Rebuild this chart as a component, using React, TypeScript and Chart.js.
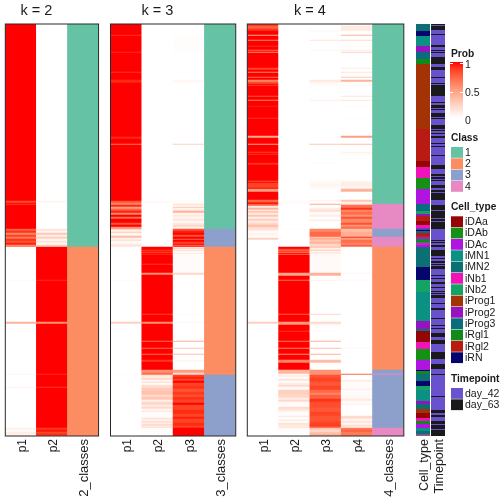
import React, { useEffect, useRef } from "react";
import { Chart, registerables } from "chart.js";

Chart.register(...registerables);

type Run = [number, number];
type CatRun = [number, string];

const ROWS = 412;
const FONT = "'Liberation Sans', Arial, sans-serif";

// ---- probability columns: [first row, probability] runs ----
const k2P1: Run[] = [[0,1],[177,.82],[179,1],[180,.85],[181,1],[205,.75],[207,.9],[209,.6],[211,.85],[213,.65],[215,.9],[217,.8],[219,.95],[221,.55],[222,.75],[223,0],[256,.04],[257,0],[298,.4],[300,0],[350,.06],[351,0],[363,.08],[364,0],[404,.08],[406,.02],[408,.1],[410,.04],[411,.12]];
const k2P2: Run[] = [[0,0],[177,.05],[179,0],[205,.15],[207,.05],[209,.3],[211,.1],[213,.25],[215,.05],[217,.15],[219,.03],[221,.3],[222,.15],[223,1],[256,.92],[257,1],[298,.55],[300,1],[350,.92],[351,1],[363,.88],[364,1],[404,.88],[406,.97],[408,.85],[410,.95],[411,.82]];
const k3P1: Run[] = [[0,1],[11,.9],[12,1],[28,.92],[29,1],[48,.9],[49,1],[56,.93],[59,1],[113,.93],[115,1],[120,.65],[121,1],[177,.8],[179,.6],[181,.92],[183,.5],[185,.75],[187,.95],[189,.6],[191,1],[193,.7],[195,1],[199,.8],[201,1],[203,.55],[205,.3],[206,.08],[208,.3],[209,.05],[212,.35],[214,.08],[216,.2],[217,.03],[220,.1],[221,.15],[223,0],[256,.03],[257,0],[298,.25],[300,0],[350,.02],[351,0]];
const k3P2: Run[] = [[0,0],[177,.04],[179,0],[223,1],[226,.85],[227,1],[228,.8],[229,1],[230,.9],[231,1],[240,.88],[241,1],[249,.55],[251,1],[290,.85],[291,1],[298,.55],[300,1],[317,.7],[318,1],[324,.7],[325,1],[330,.7],[331,1],[336,.88],[338,1],[346,.55],[349,.7],[351,.15],[353,.05],[354,.22],[356,.05],[358,.2],[359,.02],[361,.18],[364,.28],[367,.32],[371,.2],[373,.3],[376,.08],[378,.22],[381,.12],[383,.2],[385,.05],[387,.15],[388,.02],[394,.15],[396,.03],[397,.18],[399,.05],[400,.2],[402,.1],[403,.2],[404,.01]];
const k3P3: Run[] = [[0,0],[11,.01],[28,.02],[29,0],[48,.03],[49,0],[56,.04],[59,0],[113,.02],[114,0],[120,.25],[121,0],[177,.03],[179,0],[180,.2],[181,.05],[183,.3],[184,.08],[186,.12],[187,.4],[189,.05],[191,.12],[193,.05],[195,.15],[197,.04],[199,.12],[201,.22],[203,.05],[205,.8],[207,.95],[209,1],[211,.8],[213,1],[215,.7],[216,1],[218,.85],[220,1],[221,.7],[222,1],[223,.1],[224,.25],[225,.05],[226,.2],[227,.03],[229,.12],[230,.02],[249,.22],[251,0],[290,.03],[291,0],[298,.05],[299,0],[317,.42],[318,0],[324,.3],[325,0],[330,.35],[331,0],[336,.05],[338,0],[346,.5],[349,.2],[351,.85],[353,.95],[355,.85],[357,1],[359,.85],[362,.9],[365,.8],[368,.88],[371,.8],[373,.9],[376,.85],[379,1],[381,.85],[386,.92],[390,.85],[393,.95],[395,.85],[399,.92],[402,.85],[404,1]];
const k4P1: Run[] = [[0,.9],[2,.75],[5,.9],[7,1],[11,.45],[12,1],[16,.6],[17,1],[22,.92],[23,1],[26,.7],[27,1],[28,.55],[29,1],[44,.85],[46,1],[48,.6],[49,1],[53,.7],[54,1],[56,.6],[58,.82],[60,1],[61,.85],[62,1],[72,.8],[73,1],[76,.6],[77,1],[82,.95],[83,1],[94,.9],[95,1],[112,.45],[114,1],[120,.45],[121,1],[128,.85],[129,1],[130,.9],[131,1],[139,.9],[141,1],[157,.8],[158,1],[159,.85],[164,1],[165,.5],[168,1],[176,.7],[178,.85],[179,1],[180,.75],[182,.12],[184,.4],[186,.05],[187,.3],[189,.12],[191,.3],[193,.1],[195,.25],[197,.12],[199,.2],[201,.35],[203,.2],[205,.15],[207,.02],[209,.06],[212,.01],[214,.25],[216,0],[256,.02],[257,0],[298,.25],[300,0]];
const k4P2: Run[] = [[0,0],[177,.03],[180,0],[205,.02],[206,0],[223,1],[225,.85],[226,.7],[227,.9],[228,.6],[229,1],[230,.7],[231,1],[249,.45],[252,1],[256,.7],[257,1],[290,.75],[291,1],[298,.5],[301,1],[307,.9],[308,1],[317,.65],[318,1],[324,.6],[325,1],[330,.55],[331,1],[336,.6],[339,1],[346,.38],[350,.02],[351,.1],[353,.02],[355,.15],[357,.02],[359,.1],[361,.2],[363,.02],[366,.25],[371,.22],[374,.1],[376,.2],[378,.02],[383,.18],[386,.1],[388,.01],[392,.14],[393,.01],[396,.14],[397,.01],[399,.15],[402,.08],[403,.18],[404,.01]];
const k4P3: Run[] = [[0,0],[7,.05],[8,0],[16,.15],[17,0],[26,.05],[27,0],[56,.12],[58,.05],[60,0],[61,.05],[62,0],[76,.1],[77,0],[120,.3],[121,0],[139,.03],[140,0],[157,.03],[160,.06],[163,.02],[165,.03],[166,0],[176,.05],[178,0],[180,.45],[181,0],[184,.1],[186,.18],[188,.03],[191,.1],[193,0],[196,.15],[197,0],[205,.6],[208,.72],[213,.3],[214,.42],[216,.3],[218,.4],[220,.22],[223,.35],[224,.08],[226,.3],[227,.03],[228,.12],[230,.03],[249,.4],[252,0],[256,.08],[257,0],[290,.22],[291,0],[298,.2],[300,.05],[302,0],[307,.03],[308,0],[317,.4],[318,0],[324,.35],[325,0],[330,.4],[331,0],[336,.35],[339,0],[346,.55],[351,.8],[354,.85],[358,.78],[362,.85],[366,.72],[369,.6],[371,.75],[375,.9],[378,.82],[384,.78],[388,.85],[392,.8],[398,.85],[401,.9],[402,.8],[404,.3],[406,.2],[408,.32],[410,.4]];
const k4P4: Run[] = [[0,0],[2,.12],[7,0],[11,.4],[12,0],[16,.2],[17,0],[22,.05],[23,0],[26,.1],[27,0],[28,.25],[29,0],[44,.1],[45,0],[48,.15],[49,0],[53,.3],[54,0],[56,.4],[58,0],[61,.05],[62,0],[72,.15],[73,0],[76,.15],[77,0],[82,.03],[83,0],[94,.02],[95,0],[112,.5],[114,0],[120,.35],[121,0],[128,.1],[129,0],[130,.05],[131,0],[157,.05],[158,.1],[162,.05],[165,.4],[168,0],[176,.3],[178,.1],[180,.12],[181,.7],[184,.9],[186,.6],[188,.7],[191,.55],[193,.8],[195,.6],[199,.8],[201,.55],[203,.7],[205,.35],[208,.42],[213,.9],[214,.5],[216,.7],[219,.6],[221,.75],[223,0],[249,.05],[250,0],[256,.03],[257,0],[298,.02],[299,0],[324,.05],[325,0],[350,.72],[351,0],[356,.1],[358,.02],[365,.1],[366,.02],[372,.04],[375,.12],[377,.02],[380,.1],[381,0],[392,.2],[395,.05],[397,.15],[399,.05],[401,.18],[403,.05],[404,.65],[406,.75],[408,.65]];

// ---- class columns ----
const k2Classes: Run[] = [[0,1],[223,2]];
const k3Classes: Run[] = [[0,1],[205,3],[223,2],[351,3]];
const k4Classes: Run[] = [[0,1],[180,4],[205,3],[213,4],[223,2],[346,3],[350,4],[351,3],[404,4]];

// ---- annotation columns ----
const cellTypeRuns: CatRun[] = [[0,"iMN2"],[7,"iRN"],[12,"iMN1"],[22,"iProg2"],[28,"iProg3"],[35,"iRgl1"],[40,"iProg1"],[105,"iRgl2"],[137,"iDAa"],[143,"iNb1"],[154,"iDAb"],[165,"iDAc"],[180,"iProg3"],[187,"iNb2"],[190,"iProg2"],[192,"iRgl2"],[197,"iDAa"],[201,"iNb1"],[204,"iDAc"],[205,"iProg3"],[206,"iRN"],[207,"iProg3"],[209,"iRgl2"],[212,"iProg1"],[213,"iDAc"],[215,"iRgl1"],[218,"iMN1"],[219,"iNb1"],[221,"iDAc"],[223,"iMN2"],[243,"iRN"],[256,"iNb2"],[268,"iMN1"],[297,"iProg2"],[305,"iMN2"],[307,"iDAa"],[318,"iNb1"],[325,"iDAb"],[336,"iDAc"],[346,"iRN"],[347,"iRgl1"],[350,"iMN2"],[357,"iRN"],[362,"iNb2"],[366,"iMN1"],[377,"iProg2"],[380,"iMN2"],[385,"iProg1"],[389,"iDAa"],[394,"iNb1"],[397,"iRgl1"],[400,"iDAc"],[404,"iMN1"],[407,"iMN2"],[410,"iNb1"],[411,"iNb2"]];
const timepointRuns: CatRun[] = [[0,"day_63"],[1,"day_42"],[2,"day_63"],[6,"day_42"],[10,"day_63"],[11,"day_42"],[21,"day_63"],[23,"day_42"],[26,"day_63"],[27,"day_42"],[28,"day_63"],[29,"day_42"],[33,"day_63"],[40,"day_42"],[43,"day_63"],[46,"day_42"],[53,"day_63"],[54,"day_42"],[59,"day_63"],[60,"day_42"],[61,"day_63"],[72,"day_42"],[78,"day_63"],[79,"day_42"],[81,"day_63"],[84,"day_42"],[85,"day_63"],[86,"day_42"],[89,"day_63"],[93,"day_42"],[94,"day_63"],[95,"day_42"],[101,"day_63"],[105,"day_42"],[106,"day_63"],[107,"day_42"],[109,"day_63"],[110,"day_42"],[112,"day_63"],[114,"day_42"],[119,"day_63"],[120,"day_42"],[122,"day_63"],[123,"day_42"],[131,"day_63"],[132,"day_42"],[141,"day_63"],[145,"day_42"],[150,"day_63"],[152,"day_42"],[153,"day_63"],[155,"day_42"],[156,"day_63"],[157,"day_42"],[161,"day_63"],[164,"day_42"],[166,"day_63"],[168,"day_42"],[169,"day_63"],[176,"day_42"],[181,"day_63"],[186,"day_42"],[187,"day_63"],[194,"day_42"],[195,"day_63"],[197,"day_42"],[198,"day_63"],[205,"day_42"],[216,"day_63"],[217,"day_42"],[218,"day_63"],[219,"day_42"],[221,"day_63"],[223,"day_42"],[226,"day_63"],[232,"day_42"],[234,"day_63"],[235,"day_42"],[237,"day_63"],[239,"day_42"],[240,"day_63"],[241,"day_42"],[242,"day_63"],[245,"day_42"],[251,"day_63"],[252,"day_42"],[254,"day_63"],[255,"day_42"],[258,"day_63"],[260,"day_42"],[263,"day_63"],[264,"day_42"],[267,"day_63"],[268,"day_42"],[269,"day_63"],[270,"day_42"],[271,"day_63"],[274,"day_42"],[279,"day_63"],[280,"day_42"],[284,"day_63"],[286,"day_42"],[294,"day_63"],[295,"day_42"],[301,"day_63"],[302,"day_42"],[304,"day_63"],[305,"day_42"],[309,"day_63"],[313,"day_42"],[316,"day_63"],[320,"day_42"],[328,"day_63"],[335,"day_42"],[340,"day_63"],[345,"day_42"],[350,"day_63"],[351,"day_42"],[372,"day_63"],[373,"day_42"],[386,"day_63"],[389,"day_42"],[391,"day_63"],[393,"day_42"],[397,"day_63"],[400,"day_42"],[401,"day_63"],[405,"day_42"],[406,"day_63"]];

// ---- legend tables ----
const classLabels = ["1", "2", "3", "4"];
const classColors = ["#66C2A5", "#FC8D62", "#8DA0CB", "#E78AC3"];
const cellTypeLabels = ["iDAa","iDAb","iDAc","iMN1","iMN2","iNb1","iNb2","iProg1","iProg2","iProg3","iRgl1","iRgl2","iRN"];
const cellTypeColors = ["#950505","#149114","#B014E0","#0B9181","#0C6F73","#F014B8","#15A365","#A33205","#9713C0","#0B6C7E","#118A1D","#B91A12","#05056E"];
const timepointLabels = ["day_42", "day_63"];
const timepointColors = ["#6A52CE", "#1A1A1A"];
const probTicks = ["1", "0.5", "0"];

function probColor(p: number): string {
  const g = Math.round(255 * Math.pow(1 - p, 0.7));
  const b = Math.round(255 * (1 - p));
  return `rgb(255,${g},${b})`;
}

type Col = { label: string; runs: { start: number; end: number; color: string }[] };

function toCol<T>(label: string, runs: [number, T][], color: (v: T) => string): Col {
  return {
    label,
    runs: runs.map(([start, v], i) => ({
      start,
      end: i + 1 < runs.length ? runs[i + 1][0] : ROWS,
      color: color(v),
    })),
  };
}

const classColor = (c: number) => classColors[c - 1];
const cellColor = (c: string) => cellTypeColors[cellTypeLabels.indexOf(c)];
const timeColor = (c: string) => timepointColors[timepointLabels.indexOf(c)];

const bordered = {
  id: "panelBorder",
  afterDatasetsDraw(chart: any, _a: any, opts: any) {
    if (!opts.on) return;
    const { left, top, right, bottom } = chart.chartArea;
    const c = chart.ctx;
    c.save();
    c.strokeStyle = "#2a2a2a";
    c.lineWidth = 1;
    c.strokeRect(left, top, right - left, bottom - top);
    c.restore();
  },
};

const panelTitle = {
  id: "panelTitle",
  afterDraw(chart: any, _a: any, opts: any) {
    if (!opts.text) return;
    const c = chart.ctx;
    const area = chart.chartArea;
    const colW = (area.right - area.left) / chart.data.labels.length;
    c.save();
    c.font = `14.5px ${FONT}`;
    c.fillStyle = "#1a1a1a";
    c.textAlign = "center";
    c.textBaseline = "alphabetic";
    c.fillText(opts.text, area.left + (colW * (chart.data.labels.length - 1)) / 2, 15);
    c.restore();
  },
};

const legendPlugin = {
  id: "sideLegend",
  afterDraw(chart: any, _a: any, opts: any) {
    if (!opts.on) return;
    const c = chart.ctx;
    const ox = -410;
    const head = (t: string, y: number) => {
      c.font = `bold 10.2px ${FONT}`;
      c.fillStyle = "#1a1a1a";
      c.fillText(t, 451 + ox, y);
    };
    const label = (t: string, y: number) => {
      c.font = `10.5px ${FONT}`;
      c.fillStyle = "#1a1a1a";
      c.fillText(t, 465 + ox, y);
    };
    const swatches = (labels: string[], colors: string[], y0: number) => {
      labels.forEach((l, i) => {
        const y = y0 + i * 11.33;
        c.fillStyle = colors[i];
        c.fillRect(451 + ox, y, 12, 10.8);
        label(l, y + 5.9);
      });
    };
    c.save();
    c.textAlign = "left";
    c.textBaseline = "middle";
    head("Prob", 54);
    const g = c.createLinearGradient(0, 62, 0, 118);
    [1, 0.9, 0.8, 0.7, 0.6, 0.5, 0.4, 0.3, 0.2, 0.1, 0].forEach((p) =>
      g.addColorStop(1 - p, probColor(p))
    );
    c.fillStyle = g;
    c.fillRect(450 + ox, 62, 13, 56);
    c.strokeStyle = "#ffffff";
    c.lineWidth = 1;
    [63, 92].forEach((y) => {
      c.beginPath();
      c.moveTo(450 + ox, y + 0.5);
      c.lineTo(453 + ox, y + 0.5);
      c.moveTo(460 + ox, y + 0.5);
      c.lineTo(463 + ox, y + 0.5);
      c.stroke();
    });
    [65, 92.7, 120.7].forEach((y, i) => label(probTicks[i], y));
    head("Class", 138);
    swatches(classLabels, classColors, 147);
    head("Cell_type", 206.7);
    swatches(cellTypeLabels, cellTypeColors, 216.3);
    head("Timepoint", 379);
    swatches(timepointLabels, timepointColors, 388);
    c.restore();
  },
};

function makeChart(
  canvas: HTMLCanvasElement,
  cols: Col[],
  o: { title?: string; border: boolean; left: number; right: number; barPct: number; legend?: boolean; fontSize: (label: string) => number }
) {
  const labels = cols.map((c) => c.label);
  const data: any[] = [];
  const colors: string[] = [];
  cols.forEach((c) =>
    c.runs.forEach((r) => {
      data.push({ x: c.label, y: [r.start, r.end] });
      colors.push(r.color);
    })
  );
  return new Chart(canvas, {
    type: "bar",
    data: {
      labels,
      datasets: [
        {
          data,
          backgroundColor: colors,
          borderWidth: 0,
          categoryPercentage: 1,
          barPercentage: o.barPct,
        } as any,
      ],
    },
    options: {
      animation: false,
      responsive: false,
      devicePixelRatio: 1,
      layout: { padding: { top: 24, left: o.left, right: o.right, bottom: 0 } },
      plugins: {
        legend: { display: false },
        title: { display: false },
        tooltip: { enabled: false },
        panelBorder: { on: o.border },
        panelTitle: { text: o.title },
        sideLegend: { on: !!o.legend },
      } as any,
      scales: {
        x: {
          type: "category",
          grid: { display: false, drawTicks: false },
          border: { display: false },
          afterFit(scale: any) {
            scale.height = 68;
          },
          ticks: {
            autoSkip: false,
            minRotation: 90,
            maxRotation: 90,
            padding: 3,
            labelOffset: 1.5,
            color: "#1a1a1a",
            font: (ctx: any) => ({
              family: FONT,
              size: o.fontSize(labels[ctx.index] ?? ""),
            }),
          },
        },
        y: { type: "linear", display: false, reverse: true, min: 0, max: ROWS },
      },
    } as any,
    plugins: [bordered, panelTitle, legendPlugin] as any,
  });
}

const panels = [
  {
    x: 3, w: 99, left: 2.3, right: 2.3, title: "k = 2",
    cols: [toCol("p1", k2P1, probColor), toCol("p2", k2P2, probColor), toCol("2_classes", k2Classes, classColor)],
  },
  {
    x: 108, w: 131, left: 2.5, right: 2.5, title: "k = 3",
    cols: [toCol("p1", k3P1, probColor), toCol("p2", k3P2, probColor), toCol("p3", k3P3, probColor), toCol("3_classes", k3Classes, classColor)],
  },
  {
    x: 245, w: 162, left: 2.3, right: 2.3, title: "k = 4",
    cols: [toCol("p1", k4P1, probColor), toCol("p2", k4P2, probColor), toCol("p3", k4P3, probColor), toCol("p4", k4P4, probColor), toCol("4_classes", k4Classes, classColor)],
  },
];

const annotationCols = [toCol("Cell_type", cellTypeRuns, cellColor), toCol("Timepoint", timepointRuns, timeColor)];

export default function App() {
  const wrap = useRef<HTMLDivElement | null>(null);
  useEffect(() => {
    const charts: Chart[] = [];
    const host = wrap.current!;
    const add = (x: number, w: number) => {
      const cv = document.createElement("canvas");
      cv.width = w;
      cv.height = 504;
      cv.style.position = "absolute";
      cv.style.left = x + "px";
      cv.style.top = "0px";
      host.appendChild(cv);
      return cv;
    };
    panels.forEach((p) => {
      charts.push(
        makeChart(add(p.x, p.w), p.cols, {
          title: p.title,
          border: true,
          left: p.left,
          right: p.right,
          barPct: 1,
          fontSize: (l) => (l.includes("_") ? 13 : 12),
        })
      );
    });
    charts.push(
      makeChart(add(410, 94), annotationCols, {
        border: false,
        left: 5.5,
        right: 58.5,
        barPct: 14 / 15,
        legend: true,
        fontSize: () => 12.5,
      })
    );
    return () => {
      charts.forEach((c) => {
        const cv = c.canvas;
        c.destroy();
        cv.remove();
      });
    };
  }, []);
  return <div ref={wrap} style={{ position: "absolute", left: 0, top: 0, width: 504, height: 504, background: "#fff" }} />;
}
